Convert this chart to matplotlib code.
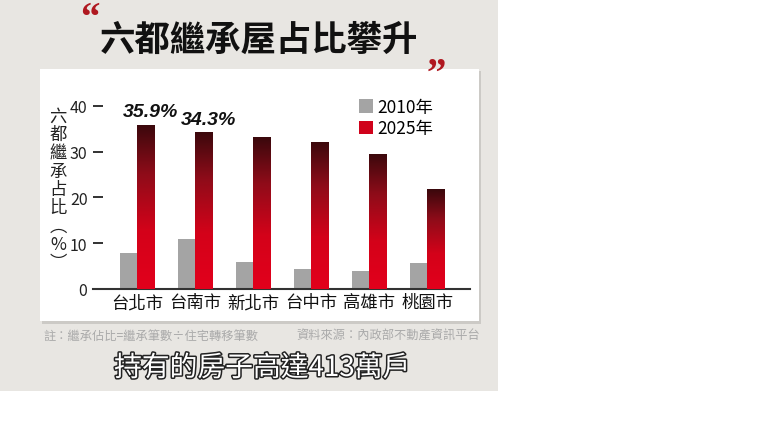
import numpy as np
import matplotlib
matplotlib.use("Agg")
import matplotlib.pyplot as plt
from matplotlib.patches import Rectangle, Patch
from matplotlib.colors import LinearSegmentedColormap
import matplotlib.patheffects as pe

plt.rcParams['font.family'] = ['Noto Sans CJK TC', 'DejaVu Sans']

# data
cities = ["台北市", "台南市", "新北市", "台中市", "高雄市", "桃園市"]
share_2010 = [7.8, 10.9, 5.9, 4.4, 4.0, 5.7]
share_2025 = [35.9, 34.3, 33.1, 32.1, 29.5, 21.8]
labelled = {0: "35.9%", 1: "34.3%"}
series_names = ["2010年", "2025年"]

W, H = 780, 439
fig = plt.figure(figsize=(W / 100, H / 100), dpi=100)
fig.patch.set_facecolor("white")


def fx(x):
    return x / W


def fy(y):
    return 1 - y / H


# paper background and white panel
fig.add_artist(Rectangle((0, fy(392)), fx(498), 392 / H, transform=fig.transFigure,
                         facecolor="#e8e6e2", edgecolor="none", zorder=-3))
fig.add_artist(Rectangle((fx(42), fy(325)), fx(439), 253 / H, transform=fig.transFigure,
                         facecolor="#9a9894", alpha=0.35, edgecolor="none", zorder=-2))
fig.add_artist(Rectangle((fx(40), fy(322)), fx(439), 252 / H, transform=fig.transFigure,
                         facecolor="white", edgecolor="none", zorder=-1))

# axes: x from 93px to 470px, y=0 at 290px, 4.58 px per unit
ymax = 42
ax = fig.add_axes([fx(93), fy(290), fx(470 - 93), ymax * 4.58 / H])
ax.patch.set_alpha(0)

x = np.arange(len(cities))
w = 0.30
ax.bar(x - w, share_2010, width=w, align="edge", color="#a4a4a4", zorder=2)
red_bars = ax.bar(x, share_2025, width=w, align="edge", facecolor="none",
                  edgecolor="none", zorder=3)

cmap = LinearSegmentedColormap.from_list(
    "redgrad", [(0.0, "#e2001c"), (0.35, "#d40219"), (0.7, "#8e0c19"), (1.0, "#3a080c")])
grad = np.linspace(0, 1, 256).reshape(-1, 1)
for b in red_bars:
    x0, h = b.get_x(), b.get_height()
    im = ax.imshow(grad, cmap=cmap, origin="lower", aspect="auto",
                   extent=[x0, x0 + b.get_width(), 0, h], zorder=3)
    im.set_clip_path(b)

for i, txt in labelled.items():
    ax.text(x[i] + w / 2 + 0.08, share_2025[i] + 0.9, txt, ha="center", va="bottom",
            fontsize=14, fontweight="bold", fontstyle="italic",
            family="Liberation Sans", color="#111111")

ax.set_xlim(-0.76, 5.74)
ax.set_ylim(0, ymax)
ax.set_yticks([0, 10, 20, 30, 40])
ax.tick_params(axis="y", direction="in", length=7, width=1.3, color="#222222",
               labelsize=11.5, labelcolor="#222222", pad=4)
ax.set_xticks(x)
ax.set_xticklabels(cities, fontsize=12.5, color="#111111")
ax.tick_params(axis="x", length=0, pad=3)
for s in ["top", "right", "left"]:
    ax.spines[s].set_visible(False)
ax.spines["bottom"].set_color("#333333")
ax.spines["bottom"].set_linewidth(1.5)

# vertical y label
ylab = "\n".join(list("六都繼承占比") + ["︵", "%", "︶"])
fig.text(fx(58), fy(190), ylab, ha="center", va="center", fontsize=12.5,
         linespacing=1.02, color="#222222")

# legend
handles = [Patch(facecolor="#a4a4a4"), Patch(facecolor="#d0021b")]
fig.legend(handles, series_names, loc="upper left", bbox_to_anchor=(fx(352), fy(92)),
           frameon=False, fontsize=12.5, handlelength=0.8, handleheight=0.8,
           handletextpad=0.25, labelspacing=0.2, borderaxespad=0)

# title and quote marks
fig.text(fx(259), fy(40), "六都繼承屋占比攀升", ha="center", va="center",
         fontsize=25.5, fontweight="bold", color="#111111")
fig.text(fx(90), fy(2), "“", ha="center", va="top", fontsize=28,
         family="Liberation Serif", fontweight="bold", color="#b01820")
fig.text(fx(436), fy(57), "”", ha="center", va="top", fontsize=28,
         family="Liberation Serif", fontweight="bold", color="#b01820")

# footnote
fig.text(fx(43), fy(336), "註：繼承佔比=繼承筆數÷住宅轉移筆數", ha="left", va="center",
         fontsize=8.8, color="#aaaaaa")
fig.text(fx(480), fy(336), "資料來源：內政部不動產資訊平台", ha="right", va="center",
         fontsize=8.8, color="#aaaaaa")

# subtitle
fig.text(fx(262), fy(369), "持有的房子高達413萬戶", ha="center", va="center",
         fontsize=20, color="white",
         path_effects=[pe.withStroke(linewidth=2.2, foreground="#222222")])

fig.savefig("out.png", dpi=100)
